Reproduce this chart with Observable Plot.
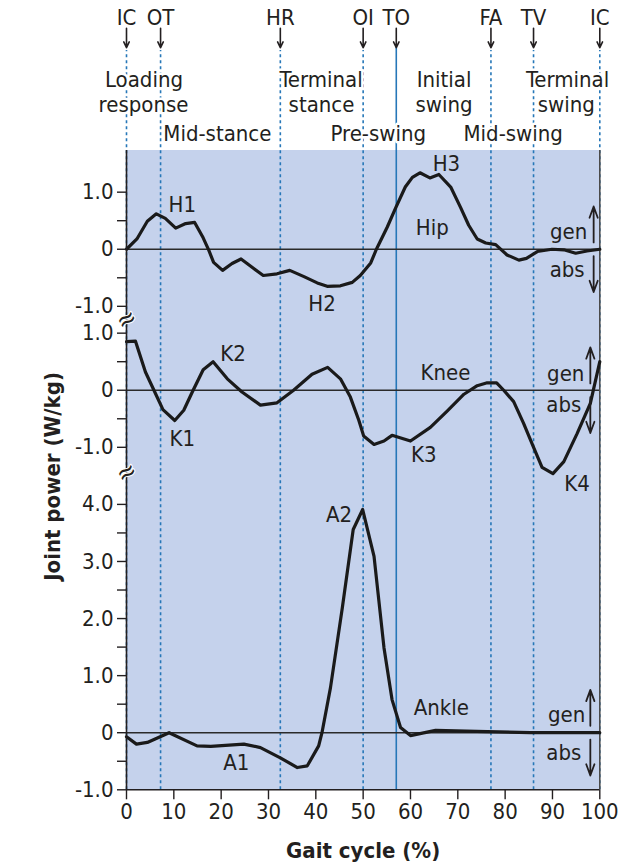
<!DOCTYPE html>
<html><head><meta charset="utf-8">
<script src="https://cdn.jsdelivr.net/npm/d3@7"></script>
<script src="https://cdn.jsdelivr.net/npm/@observablehq/plot@0.6"></script>
<style>
body{margin:0;background:#fff;}
#chart svg{display:block;}
</style></head><body><div id="chart"></div>
<script>
// ---- data (gait cycle %, joint power W/kg) ----
const hipX = [0,2.2,4.4,6.3,8.2,10.4,12.5,14.4,16.2,17.4,18.4,20.3,22.3,24.2,26.6,28.9,31.8,34.5,37.5,40.3,42.4,45.2,47.7,49.4,51.6,52.8,55.1,56.8,58.9,60.4,62.0,64.1,66.0,68.5,70.6,72.3,74.1,75.9,78.0,80.4,82.9,84.5,86.8,89.9,92.4,94.9,97.3,100];
const hipY = [0,0.18,0.49,0.62,0.54,0.37,0.45,0.47,0.2,-0.02,-0.23,-0.37,-0.25,-0.17,-0.32,-0.46,-0.43,-0.37,-0.48,-0.59,-0.65,-0.64,-0.58,-0.46,-0.24,0,0.39,0.71,1.09,1.26,1.34,1.25,1.31,1.09,0.73,0.42,0.18,0.11,0.08,-0.1,-0.19,-0.16,-0.04,0,-0.01,-0.07,-0.03,0];
const kneeX = [0,1.9,4.0,5.8,7.7,10.2,12.1,13.9,16.2,18.3,21.3,24.4,28.3,31.8,35.3,39.2,42.5,45.2,47.3,49.1,50.1,52.3,54.4,56.1,60.0,64.2,67.8,71.3,74.1,76.2,78.2,79.7,81.8,83.9,86.1,87.8,90.1,92.4,95.2,98.0,100];
const kneeY = [0.85,0.86,0.32,0,-0.34,-0.53,-0.35,-0.03,0.36,0.5,0.2,-0.03,-0.26,-0.22,0,0.28,0.4,0.2,-0.12,-0.53,-0.8,-0.95,-0.89,-0.79,-0.89,-0.65,-0.36,-0.07,0.08,0.13,0.13,0,-0.2,-0.58,-1.02,-1.35,-1.46,-1.25,-0.76,-0.23,0.5];
const ankleX = [0,2.1,4.4,9,14.9,17.8,24.8,28.3,32.5,36.1,38.2,40.6,41.3,43.1,45.6,47.9,49.9,52.3,54.4,56.1,57.9,60.0,65.3,76.2,85.3,100];
const ankleY = [-0.07,-0.2,-0.17,0,-0.23,-0.24,-0.2,-0.26,-0.44,-0.61,-0.58,-0.23,0,0.79,2.19,3.56,3.91,3.09,1.49,0.58,0.09,-0.05,0.04,0.02,0,0];

const eventNames = ["IC","OT","HR","OI","TO","FA","TV","IC"];
const eventX = [0,7.2,32.5,50,57,77,86,100];

const phaseNames = ["Loading","response","Mid-stance","Terminal","stance","Pre-swing","Initial","swing","Mid-swing","Terminal","swing"];
const phaseX = [3.7,3.6,19.2,41.1,41.2,53.2,67.1,67.1,81.7,93.2,92.9];
const phaseRow = [1,2,3,1,2,3,1,2,3,1,2];

const hipTicks = [-1,-0.5,0,0.5,1];
const kneeTicks = [-1,-0.5,0,0.5,1];
const ankleTicks = [-1,-0.5,0,0.5,1,1.5,2,2.5,3,3.5,4];
const xTicks = [0,10,20,30,40,50,60,70,80,90,100];

const peakNames = ["H1","H2","H3","Hip","K1","K2","K3","K4","Knee","A1","A2","Ankle"];
const peakX = [11.8,41.3,67.6,64.6,11.8,22.5,62.8,95.2,67.4,23.2,44.9,66.5];
const peakY = [0.77,-0.96,1.49,0.38,-0.85,0.64,-1.14,-1.64,0.3,-0.53,3.82,0.44];
const peakPanel = ["hip","hip","hip","hip","knee","knee","knee","knee","knee","ankle","ankle","ankle"];

// ---- layout of the stacked panels on one broken y axis ----
const offset = {hip: 8.47, knee: 6.0, ankle: 0};
const yTop = 10.2;
const rowY = {ev: 12.39, 1: 11.32, 2: 10.88, 3: 10.37};

const series = (xs, ys, p) => xs.map((x, i) => ({x, y: ys[i] + offset[p]}));
const hip = series(hipX, hipY, "hip");
const knee = series(kneeX, kneeY, "knee");
const ankle = series(ankleX, ankleY, "ankle");

const ticks = [];
for (const [arr, p] of [[hipTicks,"hip"],[kneeTicks,"knee"],[ankleTicks,"ankle"]])
  for (const t of arr) ticks.push({v: t + offset[p], label: Number.isInteger(t) ? (t === 0 ? "0" : t.toFixed(1)) : ""});
const tickLabel = d => { const t = ticks.find(o => Math.abs(o.v - d) < 1e-6); return t ? t.label : ""; };

const events = eventNames.map((n, i) => ({n, x: eventX[i], solid: n === "TO"}));
const phases = phaseNames.map((n, i) => ({n, x: phaseX[i], y: rowY[phaseRow[i]]}));
const peaks = peakNames.map((n, i) => ({n, x: peakX[i], y: peakY[i] + offset[peakPanel[i]]}));

const panels = ["hip","knee","ankle"];
const genAbs = [
  {n:"gen", x:93.4, y:0.30 + offset.hip}, {n:"abs", x:93.1, y:-0.37 + offset.hip},
  {n:"gen", x:92.8, y:0.29 + offset.knee}, {n:"abs", x:92.4, y:-0.26 + offset.knee},
  {n:"gen", x:93.0, y:0.32 + offset.ankle}, {n:"abs", x:92.4, y:-0.35 + offset.ankle}
];
const arrowX = {hip: 98.7, knee: 98.0, ankle: 98.0};
const vArrows = panels.flatMap(p => [
  {x: arrowX[p], y1: offset[p] + 0.12, y2: offset[p] + 0.75},
  {x: arrowX[p], y1: offset[p] - 0.12, y2: offset[p] - 0.75}
]);

const FONT = "'Liberation Sans Narrow','DejaVu Sans Condensed','Arial Narrow',sans-serif";
const FS = 22;
const ink = "#231f20";
const blue = "#2677b8";

const chart = Plot.plot({
  width: 618, height: 867,
  marginLeft: 126, marginRight: 18.7, marginTop: 150, marginBottom: 77.7,
  style: {fontFamily: FONT, fontSize: FS + "px", color: ink, background: "#fff"},
  x: {domain: [0, 100]},
  y: {domain: [-1, yTop]},
  marks: [
    Plot.rect([{}], {x1: 0, x2: 100, y1: -1, y2: yTop, fill: "#c5d2ec"}),
    Plot.ruleX(events.filter(d => !d.solid), {x: "x", y1: -1, y2: 11.95, stroke: blue, strokeWidth: 1.6, strokeDasharray: "3,3"}),
    Plot.ruleX(events.filter(d => d.solid), {x: "x", y1: -1, y2: 12.03, stroke: blue, strokeWidth: 1.6}),
    Plot.ruleY(panels.map(p => offset[p]), {x1: 0, x2: 100, stroke: "#2a2a2a", strokeWidth: 1.6}),
    Plot.ruleX([100], {y1: -1, y2: yTop, stroke: "#4a4a4a", strokeWidth: 1.6}),
    Plot.line(hip, {x: "x", y: "y", stroke: "#1a1a1a", strokeWidth: 3.2, strokeLinejoin: "round"}),
    Plot.line(knee, {x: "x", y: "y", stroke: "#1a1a1a", strokeWidth: 3.2, strokeLinejoin: "round"}),
    Plot.line(ankle, {x: "x", y: "y", stroke: "#1a1a1a", strokeWidth: 3.2, strokeLinejoin: "round"}),
    // top event markers
    Plot.text(events, {x: "x", y: rowY.ev, text: "n", lineAnchor: "bottom", fontSize: FS, fill: ink}),
    Plot.arrow(events, {x: "x", y1: 12.34, y2: 12.0, stroke: ink, strokeWidth: 1.6, headLength: 9, headAngle: 50}),
    Plot.text(phases, {x: "x", y: "y", text: "n", lineAnchor: "bottom", fontSize: FS, fill: ink, stroke: "white", strokeWidth: 5}),
    // panel annotations
    Plot.text(peaks, {x: "x", y: "y", text: "n", fontSize: FS, fill: ink}),
    Plot.text(genAbs, {x: "x", y: "y", text: "n", fontSize: FS, fill: ink}),
    Plot.arrow(vArrows, {x: "x", y1: "y1", y2: "y2", stroke: ink, strokeWidth: 1.8, headLength: 10, headAngle: 40}),
    // axes
    Plot.ruleX([0], {y1: -1, y2: yTop, stroke: ink, strokeWidth: 1.6}),
    Plot.ruleY([-1], {x1: 0, x2: 100, stroke: ink, strokeWidth: 1.6}),
    Plot.axisY(ticks.map(d => d.v), {tickSize: 9, tickPadding: 4, tickFormat: tickLabel, fontSize: FS, stroke: ink, strokeWidth: 1.4, label: null}),
    Plot.axisX(xTicks, {tickSize: 10, tickPadding: 4, fontSize: FS, stroke: ink, strokeWidth: 1.4, label: null}),
    Plot.text(["≈", "≈"], {x: 0, y: [7.24, 4.56], text: d => d, fontSize: 26, rotate: -30, fill: ink, stroke: "white", strokeWidth: 2}),
    Plot.text(["Gait cycle (%)"], {x: 50, y: -2.19, text: d => d, lineAnchor: "bottom", fontSize: FS, fontWeight: "bold", fill: ink}),
    Plot.text(["Joint power (W/kg)"], {x: -15.6, y: 4.49, text: d => d, rotate: -90, fontSize: FS, fontWeight: "bold", fill: ink})
  ]
});
document.getElementById("chart").appendChild(chart);
</script>
</body></html>
